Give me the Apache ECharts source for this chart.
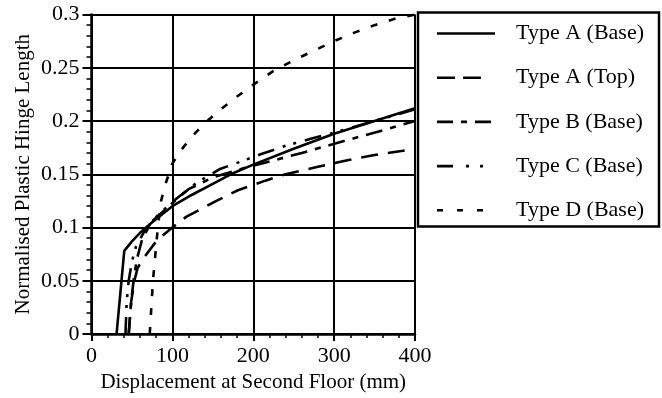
<!DOCTYPE html>
<html>
<head>
<meta charset="utf-8">
<script src="https://cdn.jsdelivr.net/npm/echarts@6/dist/echarts.min.js"></script>
<style>
  html, body { margin: 0; padding: 0; background: #fff; }
  #chart { width: 662px; height: 398px; }
</style>
</head>
<body>
<div id="chart"></div>
<script>
// Displacement at second floor (mm) and normalised plastic hinge length, per hinge type
const typeABaseX = [31, 40.5, 50, 60, 75, 100, 125, 150, 175, 200, 250, 300, 350, 400];
const typeABaseY = [0, 0.078, 0.087, 0.095, 0.105, 0.12, 0.131, 0.141, 0.151, 0.159, 0.174, 0.188, 0.2, 0.212];

const typeATopX = [46, 49, 53, 57, 64, 81, 100, 117, 152, 181, 215, 240, 280, 315, 350, 385, 400];
const typeATopY = [0, 0.03, 0.05, 0.062, 0.071, 0.088, 0.1, 0.11, 0.124, 0.135, 0.144, 0.15, 0.157, 0.163, 0.168, 0.172, 0.174];

const typeBBaseX = [46, 49, 52, 56, 63, 75, 90, 100, 120, 150, 190, 240, 260, 311, 364, 400];
const typeBBaseY = [0, 0.03, 0.05, 0.07, 0.09, 0.106, 0.116, 0.123, 0.136, 0.147, 0.156, 0.166, 0.17, 0.181, 0.192, 0.2];

const typeCBaseX = [42, 43.5, 46, 50, 55, 65, 80, 100, 130, 159, 185, 210, 241, 270, 300, 350, 400];
const typeCBaseY = [0, 0.03, 0.05, 0.068, 0.082, 0.096, 0.11, 0.124, 0.142, 0.155, 0.162, 0.169, 0.177, 0.183, 0.189, 0.2, 0.211];

const typeDBaseX = [72, 74, 76, 79, 82, 86, 92, 100, 110, 125, 140, 160, 180, 200, 225, 250, 275, 300, 325, 350, 375, 400];
const typeDBaseY = [0, 0.025, 0.05, 0.075, 0.1, 0.125, 0.142, 0.16, 0.172, 0.186, 0.198, 0.211, 0.223, 0.234, 0.247, 0.257, 0.266, 0.275, 0.283, 0.29, 0.296, 0.3];

const seriesNames = ['Type A (Base)', 'Type A (Top)', 'Type B (Base)', 'Type C (Base)', 'Type D (Base)'];
const xTickValues = [0, 100, 200, 300, 400];
const yTickValues = [0, 0.05, 0.1, 0.15, 0.2, 0.25, 0.3];

const FONT = '"Liberation Serif", "Times New Roman", serif';

function pairs(xs, ys) {
  return xs.map((x, i) => [x, ys[i]]);
}

// line patterns: plot dash, key dash and key sample length
const curves = [
  { x: typeABaseX, y: typeABaseY, dash: null, keyDash: null, keyLen: 58 },
  { x: typeATopX, y: typeATopY, dash: [17, 10], keyDash: [18, 8], keyLen: 44 },
  { x: typeBBaseX, y: typeBBaseY, dash: [17, 8, 6, 8], keyDash: [16, 8, 6, 8], keyLen: 56 },
  { x: typeCBaseX, y: typeCBaseY, dash: [17, 9, 3, 8, 3, 9], keyDash: [16, 13, 3, 11], keyLen: 46 },
  { x: typeDBaseX, y: typeDBaseY, dash: [7, 12], keyDash: [6, 14], keyLen: 46 }
];

// key box and its rows
const keyBox = { x: 418, y: 12.5, w: 241, h: 214 };
const keyRowTop = 33.5;
const keyRowStep = 44.2;
const keySampleX = 437;
const keyTextX = 516;

const keyGraphics = [
  {
    type: 'rect',
    shape: { x: keyBox.x, y: keyBox.y, width: keyBox.w, height: keyBox.h },
    style: { fill: '#fff', stroke: '#000', lineWidth: 2.5 },
    silent: true,
    z: 10
  }
];
curves.forEach((c, i) => {
  const yc = keyRowTop + i * keyRowStep;
  keyGraphics.push({
    type: 'line',
    shape: { x1: keySampleX, y1: yc, x2: keySampleX + c.keyLen, y2: yc },
    style: { stroke: '#000', lineWidth: 2.6, lineDash: c.keyDash || null, lineCap: 'butt' },
    silent: true,
    z: 11
  });
  keyGraphics.push({
    type: 'text',
    x: keyTextX,
    y: yc,
    style: {
      text: seriesNames[i],
      font: '22px ' + FONT,
      fill: '#000',
      textAlign: 'left',
      textVerticalAlign: 'middle'
    },
    silent: true,
    z: 11
  });
});

const chart = echarts.init(document.getElementById('chart'), null, { renderer: 'canvas' });

chart.setOption({
  backgroundColor: '#fff',
  animation: false,
  grid: { left: 91.5, right: 247, top: 14.5, bottom: 64, containLabel: false },
  xAxis: {
    type: 'value',
    min: xTickValues[0],
    max: xTickValues[xTickValues.length - 1],
    interval: 100,
    name: 'Displacement at Second Floor (mm)',
    nameLocation: 'middle',
    nameGap: 34,
    nameTextStyle: { fontFamily: FONT, fontSize: 21, color: '#000' },
    axisLine: { show: true, onZero: false, lineStyle: { color: '#000', width: 2.5 } },
    axisTick: { show: true, inside: false, length: 7, lineStyle: { color: '#000', width: 2 } },
    minorTick: { show: true, splitNumber: 5, length: 4, lineStyle: { color: '#000', width: 1.5 } },
    splitLine: { show: true, lineStyle: { color: '#000', width: 2 } },
    axisLabel: { fontFamily: FONT, fontSize: 22, color: '#000', margin: 11 }
  },
  yAxis: {
    type: 'value',
    min: yTickValues[0],
    max: yTickValues[yTickValues.length - 1],
    interval: 0.05,
    name: 'Normalised Plastic Hinge Length',
    nameLocation: 'middle',
    nameGap: 58,
    nameTextStyle: { fontFamily: FONT, fontSize: 21, color: '#000' },
    axisLine: { show: true, onZero: false, lineStyle: { color: '#000', width: 2.5 } },
    axisTick: { show: true, inside: false, length: 9, lineStyle: { color: '#000', width: 2 } },
    minorTick: { show: true, splitNumber: 5, length: 5, lineStyle: { color: '#000', width: 1.5 } },
    splitLine: { show: true, lineStyle: { color: '#000', width: 2 } },
    axisLabel: { fontFamily: FONT, fontSize: 22, color: '#000', margin: 12 }
  },
  graphic: keyGraphics,
  series: curves.map((c, i) => ({
    name: seriesNames[i],
    type: 'line',
    data: pairs(c.x, c.y),
    showSymbol: false,
    symbol: 'none',
    smooth: false,
    clip: true,
    lineStyle: { color: '#000', width: 2.6, type: c.dash || 'solid', cap: 'butt' },
    z: 5
  }))
});
</script>
</body>
</html>
